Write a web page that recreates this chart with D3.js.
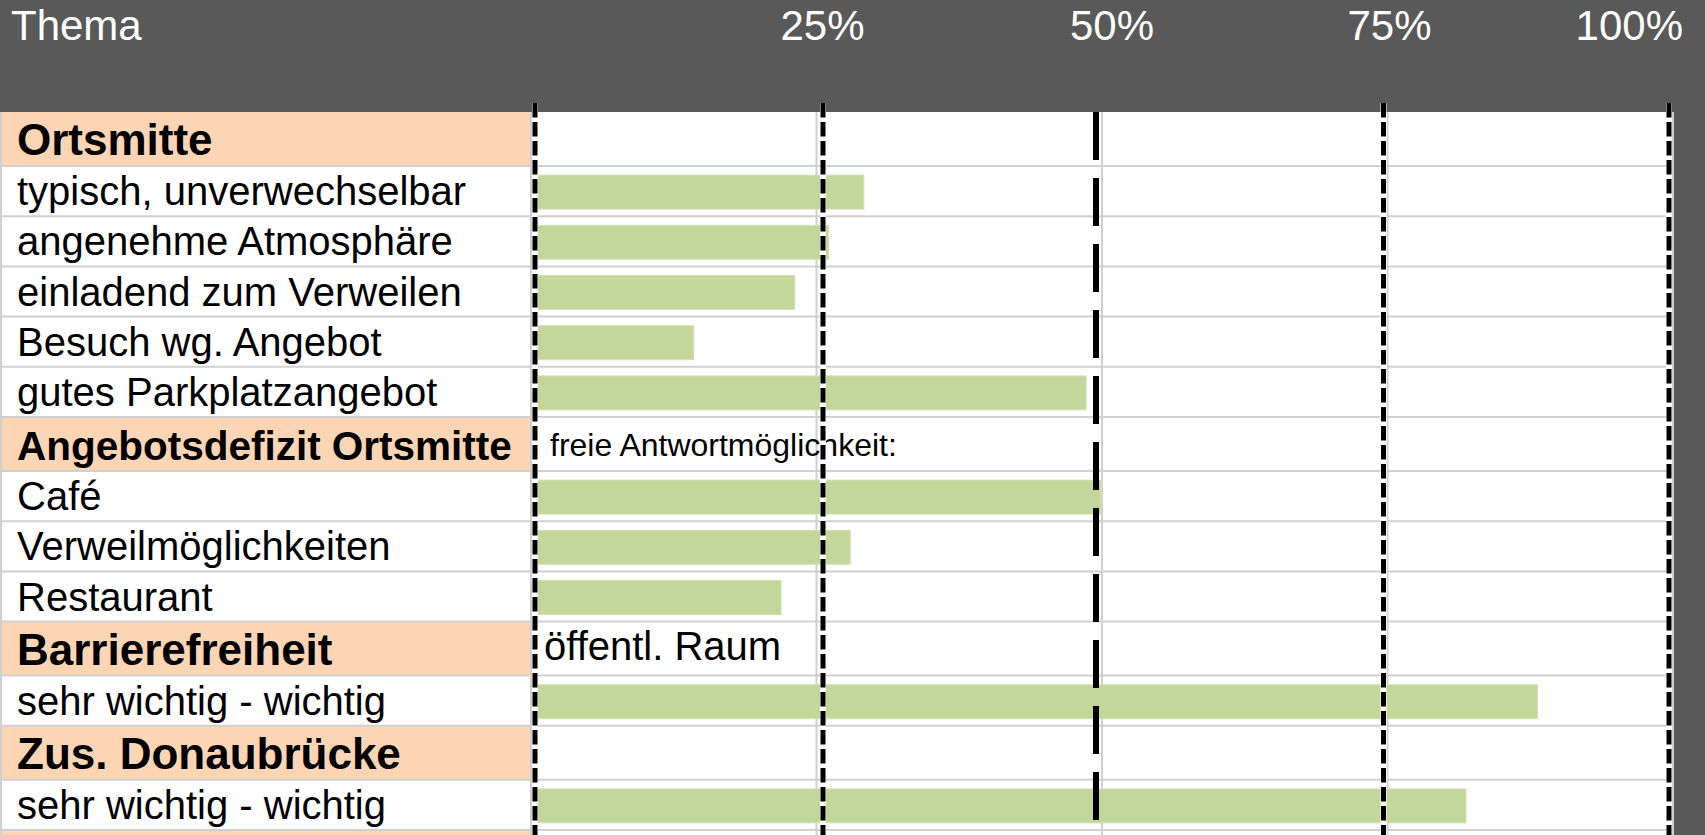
<!DOCTYPE html>
<html>
<head>
<meta charset="utf-8">
<script src="https://cdn.jsdelivr.net/npm/d3@7"></script>
<style>
  body { margin: 0; background: #fff; }
  svg { display: block; font-family: "Liberation Sans", Arial, sans-serif; }
</style>
</head>
<body>
<div id="chart"></div>
<script>
// Rows of the table, top to bottom
const rowLabels = [
  "Ortsmitte",
  "typisch, unverwechselbar",
  "angenehme Atmosphäre",
  "einladend zum Verweilen",
  "Besuch wg. Angebot",
  "gutes Parkplatzangebot",
  "Angebotsdefizit Ortsmitte",
  "Café",
  "Verweilmöglichkeiten",
  "Restaurant",
  "Barrierefreiheit",
  "sehr wichtig - wichtig",
  "Zus. Donaubrücke",
  "sehr wichtig - wichtig"
];
const rowTypes = [
  "section", "item", "item", "item", "item", "item",
  "section", "item", "item", "item",
  "section", "item",
  "section", "item"
];
// share of answers (0..1), null for section rows
const shares = [
  null, 0.29, 0.259, 0.229, 0.14, 0.486,
  null, 0.499, 0.278, 0.217,
  null, 0.884,
  null, 0.821
];
// notes written into the chart column of a section row
const noteRows = [6, 10];
const noteTexts = ["freie Antwortmöglichkeit:", "öffentl. Raum"];

const tickValues = [0.25, 0.5, 0.75, 1];
const tickLabels = ["25%", "50%", "75%", "100%"];
const refValues = [0, 0.25, 0.5, 0.75, 1];
const headerTitle = "Thema";

const width = 1705;
const height = 835;
const headerH = 112;
const labelColW = 531;
const tableRight = 1673;

const svg = d3.select("#chart")
  .append("svg")
  .attr("width", width)
  .attr("height", height);

// scale for the bars
const x = d3.scaleLinear().domain([0, 1]).range([535, 1669]);

// the hand-placed marker lines sit a little off the exact scale position
const refNudge = (d) => (d === 0.25 ? 4.5 : d === 0.5 ? -6 : d === 0.75 ? -2 : 0);
const tickNudge = (d) => (d === 0.5 ? 10 : d === 1 ? 14 : 4);

// row layout (section rows are a bit taller)
const rows = [];
let yPos = headerH;
rowLabels.forEach((label, i) => {
  const h = rowTypes[i] === "section" ? 54 : 50.2;
  rows.push({ label, type: rowTypes[i], share: shares[i], y: yPos, h, i });
  yPos += h;
});
const tableBottom = yPos;

// background fills of the section label cells
svg.selectAll(".section-fill")
  .data(rows.filter((d) => d.type === "section"))
  .enter()
  .append("rect")
  .attr("x", 0)
  .attr("y", (d) => d.y)
  .attr("width", labelColW)
  .attr("height", (d) => d.h)
  .attr("fill", "#fcd5b4");

// next section row, cut off at the bottom
svg.append("rect")
  .attr("x", 0)
  .attr("y", tableBottom)
  .attr("width", labelColW)
  .attr("height", height - tableBottom)
  .attr("fill", "#fcd5b4");

// horizontal grid lines
const hLines = rows.map((d) => d.y + d.h);
svg.selectAll(".hgrid")
  .data(hLines)
  .enter()
  .append("line")
  .attr("x1", 0)
  .attr("x2", tableRight)
  .attr("y1", (d) => d)
  .attr("y2", (d) => d)
  .style("stroke", "#d0d0d0")
  .style("stroke-width", 2);

// vertical grid lines (spreadsheet columns)
const colLines = [1].concat(d3.range(5).map((i) => labelColW + i * 285.5));
svg.selectAll(".vgrid")
  .data(colLines)
  .enter()
  .append("line")
  .attr("x1", (d) => d)
  .attr("x2", (d) => d)
  .attr("y1", headerH)
  .attr("y2", height)
  .style("stroke", "#d0d0d0")
  .style("stroke-width", 2);

// bars
const barH = 34;
svg.selectAll(".bar")
  .data(rows.filter((d) => d.share != null))
  .enter()
  .append("rect")
  .attr("class", "bar")
  .attr("x", x(0))
  .attr("y", (d) => d.y + (d.h - barH) / 2 + 1)
  .attr("width", (d) => x(d.share) - x(0))
  .attr("height", barH)
  .attr("fill", "#c4d79b")
  .attr("stroke", "#d3e1b3")
  .attr("stroke-width", 1);

// row labels
const labels = svg.selectAll(".row-label")
  .data(rows)
  .enter()
  .append("text")
  .attr("x", 17)
  .attr("y", (d) => d.y + d.h - 11)
  .style("font-size", (d) => (d.type === "section" ? "44px" : "40px"))
  .style("font-weight", (d) => (d.type === "section" ? "bold" : "normal"))
  .style("fill", "#000")
  .text((d) => d.label);

// shrink labels that do not fit in the cell
labels.each(function () {
  const avail = labelColW - 36;
  const len = this.getComputedTextLength();
  if (len > avail) {
    const size = parseFloat(this.style.fontSize);
    d3.select(this).style("font-size", (size * avail) / len + "px");
  }
});

// notes in the chart column
svg.selectAll(".note")
  .data(noteRows)
  .enter()
  .append("text")
  .attr("x", (d, i) => (i === 0 ? 550 : 544))
  .attr("y", (d, i) => rows[d].y + rows[d].h - (i === 0 ? 15 : 16))
  .style("font-size", (d, i) => (i === 0 ? "32px" : "40px"))
  .style("fill", "#000")
  .text((d, i) => noteTexts[i]);

// header band
svg.append("rect")
  .attr("x", 0)
  .attr("y", 0)
  .attr("width", width)
  .attr("height", headerH)
  .attr("fill", "#595959");

// dark strip on the right
svg.append("rect")
  .attr("x", 1674)
  .attr("y", 0)
  .attr("width", width - 1674)
  .attr("height", height)
  .attr("fill", "#595959");

svg.append("text")
  .attr("x", 11)
  .attr("y", 40)
  .style("font-size", "42px")
  .style("fill", "#fff")
  .text(headerTitle);

svg.selectAll(".tick-label")
  .data(tickValues)
  .enter()
  .append("text")
  .attr("x", (d) => x(d) + tickNudge(d))
  .attr("y", 40)
  .attr("text-anchor", (d, i) => (i === tickValues.length - 1 ? "end" : "middle"))
  .style("font-size", "42px")
  .style("fill", "#fff")
  .text((d, i) => tickLabels[i]);

// reference lines: short dashes, the 50% one with long dashes
const shortRefs = refValues.filter((d) => d !== 0.5);
svg.selectAll(".ref-under")
  .data(shortRefs)
  .enter()
  .append("line")
  .attr("x1", (d) => x(d) + refNudge(d))
  .attr("x2", (d) => x(d) + refNudge(d))
  .attr("y1", 103)
  .attr("y2", height)
  .style("stroke", "#fff")
  .style("stroke-width", 6);

svg.selectAll(".ref-short")
  .data(shortRefs)
  .enter()
  .append("line")
  .attr("x1", (d) => x(d) + refNudge(d))
  .attr("x2", (d) => x(d) + refNudge(d))
  .attr("y1", 103)
  .attr("y2", height)
  .style("stroke", "#000")
  .style("stroke-width", 5)
  .style("stroke-dasharray", "14.5,4.5");

svg.selectAll(".ref-long")
  .data(refValues.filter((d) => d === 0.5))
  .enter()
  .append("line")
  .attr("x1", (d) => x(d) + refNudge(d))
  .attr("x2", (d) => x(d) + refNudge(d))
  .attr("y1", headerH)
  .attr("y2", height)
  .style("stroke", "#000")
  .style("stroke-width", 6)
  .style("stroke-dasharray", "48,18");
</script>
</body>
</html>
